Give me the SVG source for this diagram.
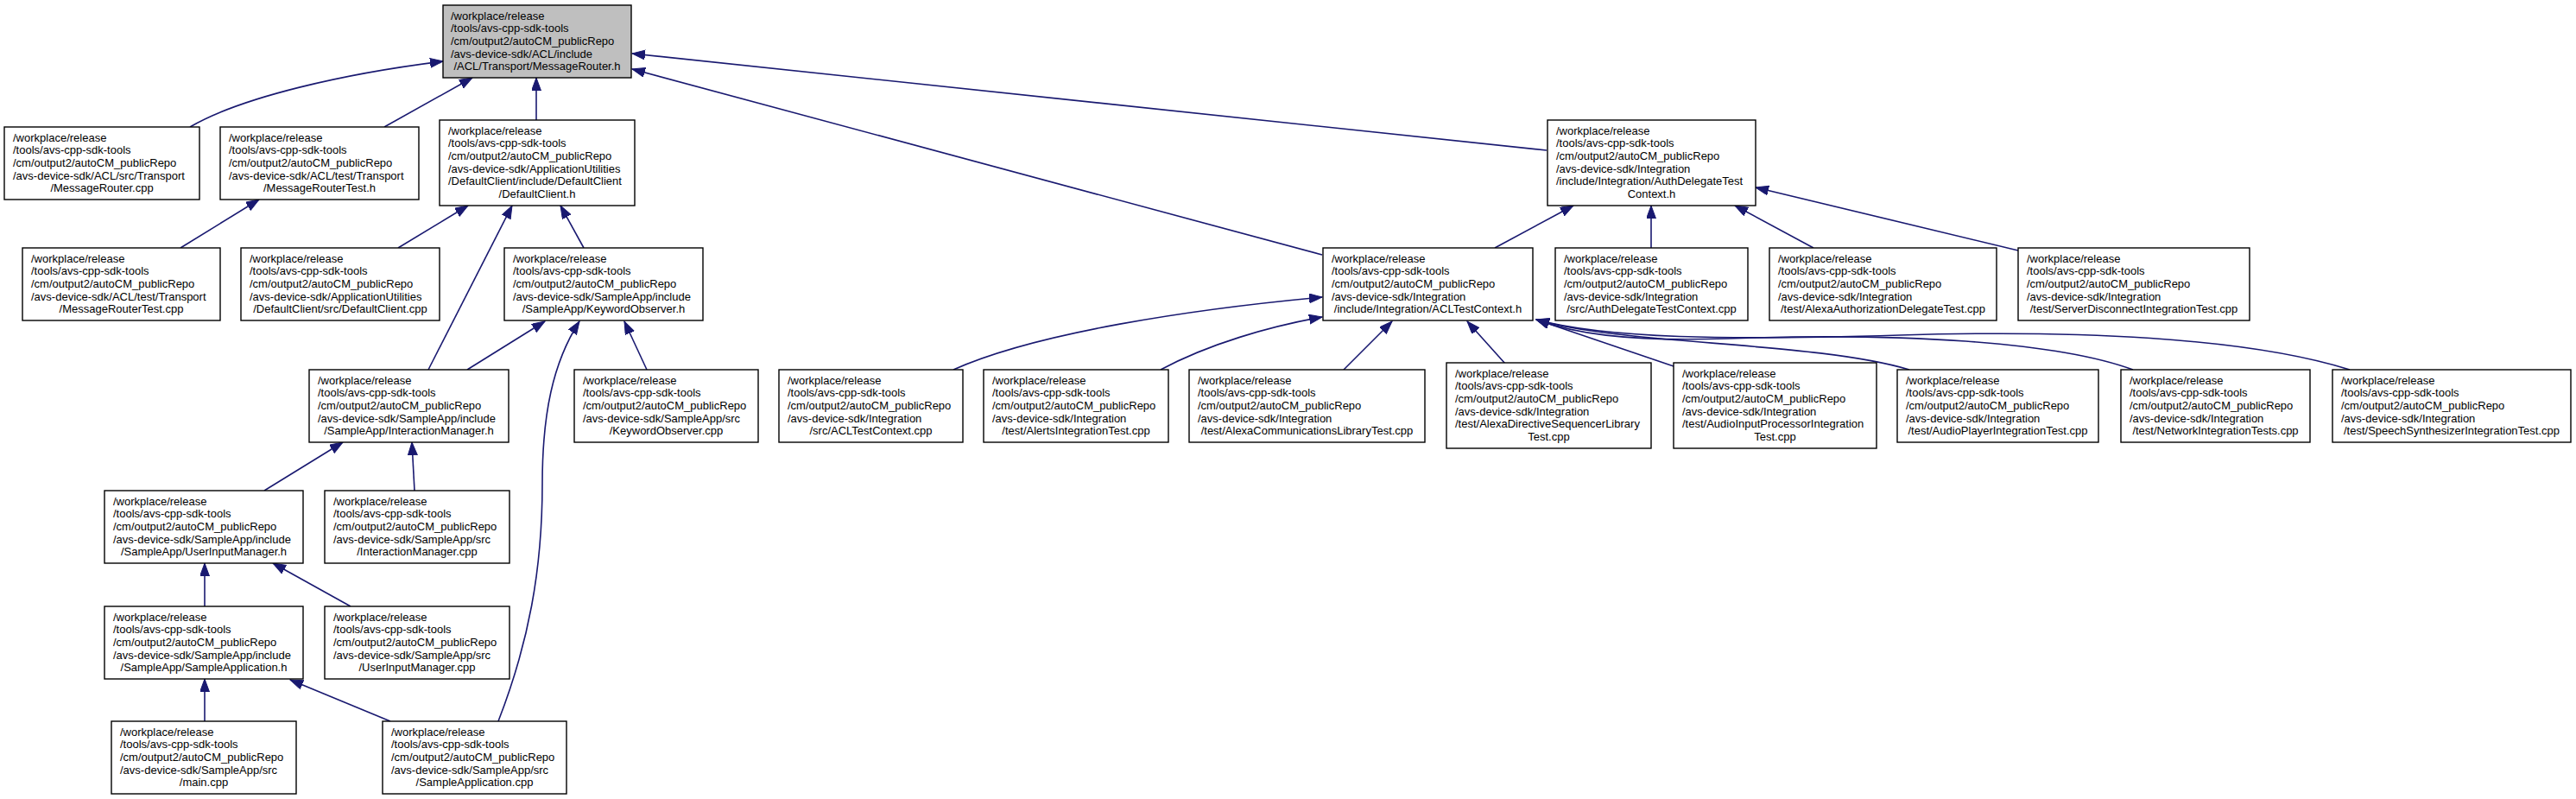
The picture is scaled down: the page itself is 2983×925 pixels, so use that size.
<svg xmlns="http://www.w3.org/2000/svg" width="2983" height="925" viewBox="0 0 2983 925">
<style>
.box{fill:#ffffff;stroke:#000000;stroke-width:1.4}
.root{fill:#bfbfbf;stroke:#000000;stroke-width:1.4}
text{font-family:"Liberation Sans",Arial,sans-serif;font-size:13px;fill:#000000}
.c{text-anchor:middle}
.e{fill:none;stroke:#191970;stroke-width:1.6;marker-end:url(#ah)}
</style>
<defs>
<marker id="ah" markerUnits="userSpaceOnUse" markerWidth="16" markerHeight="12" refX="15" refY="5.5" orient="auto">
<path d="M0,0 L15,5.5 L0,11 z" fill="#191970" stroke="#191970" stroke-width="1"/>
</marker>
</defs>
<rect width="2983" height="925" fill="#ffffff"/>
<g id="edges">
<path class="e" d="M220,147 C280,112 400,85 513,71"/>
<path class="e" d="M445,147 L547,90"/>
<path class="e" d="M621,139 L621,90"/>
<path class="e" d="M1531,295 L732,80"/>
<path class="e" d="M1791,174 L732,62"/>
<path class="e" d="M209,287 L300,231"/>
<path class="e" d="M461,287 L542,238"/>
<path class="e" d="M496,428 L593,238"/>
<path class="e" d="M676,287 L649,238"/>
<path class="e" d="M541,428 L631,372"/>
<path class="e" d="M577,835 C612,745 628,660 628,560 C628,480 640,420 671,372"/>
<path class="e" d="M749,428 L723,372"/>
<path class="e" d="M306,568 L397,512"/>
<path class="e" d="M480,568 L477,512"/>
<path class="e" d="M237,702 L237,652"/>
<path class="e" d="M406,702 L316,652"/>
<path class="e" d="M237,835 L237,786"/>
<path class="e" d="M452,835 L336,787"/>
<path class="e" d="M1731,287 L1822,238"/>
<path class="e" d="M1912,287 L1912,238"/>
<path class="e" d="M2100,287 L2009,238"/>
<path class="e" d="M2337,290 L2033,217"/>
<path class="e" d="M1104,428 C1200,385 1380,358 1531,344"/>
<path class="e" d="M1344,428 C1400,398 1470,378 1531,367"/>
<path class="e" d="M1556,428 L1612,372"/>
<path class="e" d="M1743,421 L1699,372"/>
<path class="e" d="M1938,424 L1779,370"/>
<path class="e" d="M2211,428 C2100,395 1880,400 1779,370"/>
<path class="e" d="M2470,428 C2380,395 2200,385 2000,392 C1880,396 1820,385 1779,370"/>
<path class="e" d="M2721,428 C2600,390 2400,382 2200,388 C2000,394 1860,392 1779,370"/>
</g>
<g id="n_root"><rect class="root" x="513" y="6" width="218" height="84"/>
<text x="522" y="22.5">/workplace/release</text><text x="522" y="37.2">/tools/avs-cpp-sdk-tools</text><text x="522" y="51.9">/cm/output2/autoCM_publicRepo</text><text x="522" y="66.6">/avs-device-sdk/ACL/include</text><text x="622" y="81.3" class="c">/ACL/Transport/MessageRouter.h</text></g>
<g id="n_mr_cpp"><rect class="box" x="5" y="147" width="226" height="84"/>
<text x="15" y="163.5">/workplace/release</text><text x="15" y="178.2">/tools/avs-cpp-sdk-tools</text><text x="15" y="192.9">/cm/output2/autoCM_publicRepo</text><text x="15" y="207.6">/avs-device-sdk/ACL/src/Transport</text><text x="118" y="222.3" class="c">/MessageRouter.cpp</text></g>
<g id="n_mrtest_h"><rect class="box" x="255" y="147" width="230" height="84"/>
<text x="265" y="163.5">/workplace/release</text><text x="265" y="178.2">/tools/avs-cpp-sdk-tools</text><text x="265" y="192.9">/cm/output2/autoCM_publicRepo</text><text x="265" y="207.6">/avs-device-sdk/ACL/test/Transport</text><text x="370" y="222.3" class="c">/MessageRouterTest.h</text></g>
<g id="n_dc_h"><rect class="box" x="509" y="139" width="226" height="99"/>
<text x="519" y="155.5">/workplace/release</text><text x="519" y="170.2">/tools/avs-cpp-sdk-tools</text><text x="519" y="184.9">/cm/output2/autoCM_publicRepo</text><text x="519" y="199.6">/avs-device-sdk/ApplicationUtilities</text><text x="519" y="214.3">/DefaultClient/include/DefaultClient</text><text x="622" y="229" class="c">/DefaultClient.h</text></g>
<g id="n_mrtest_cpp"><rect class="box" x="26" y="287" width="229" height="84"/>
<text x="36" y="303.5">/workplace/release</text><text x="36" y="318.2">/tools/avs-cpp-sdk-tools</text><text x="36" y="332.9">/cm/output2/autoCM_publicRepo</text><text x="36" y="347.6">/avs-device-sdk/ACL/test/Transport</text><text x="140.5" y="362.3" class="c">/MessageRouterTest.cpp</text></g>
<g id="n_dc_cpp"><rect class="box" x="279" y="287" width="230" height="84"/>
<text x="289" y="303.5">/workplace/release</text><text x="289" y="318.2">/tools/avs-cpp-sdk-tools</text><text x="289" y="332.9">/cm/output2/autoCM_publicRepo</text><text x="289" y="347.6">/avs-device-sdk/ApplicationUtilities</text><text x="394" y="362.3" class="c">/DefaultClient/src/DefaultClient.cpp</text></g>
<g id="n_ko_h"><rect class="box" x="584" y="287" width="230" height="84"/>
<text x="594" y="303.5">/workplace/release</text><text x="594" y="318.2">/tools/avs-cpp-sdk-tools</text><text x="594" y="332.9">/cm/output2/autoCM_publicRepo</text><text x="594" y="347.6">/avs-device-sdk/SampleApp/include</text><text x="699" y="362.3" class="c">/SampleApp/KeywordObserver.h</text></g>
<g id="n_im_h"><rect class="box" x="358" y="428" width="231" height="84"/>
<text x="368" y="444.5">/workplace/release</text><text x="368" y="459.2">/tools/avs-cpp-sdk-tools</text><text x="368" y="473.9">/cm/output2/autoCM_publicRepo</text><text x="368" y="488.6">/avs-device-sdk/SampleApp/include</text><text x="473.5" y="503.3" class="c">/SampleApp/InteractionManager.h</text></g>
<g id="n_ko_cpp"><rect class="box" x="665" y="428" width="213" height="84"/>
<text x="675" y="444.5">/workplace/release</text><text x="675" y="459.2">/tools/avs-cpp-sdk-tools</text><text x="675" y="473.9">/cm/output2/autoCM_publicRepo</text><text x="675" y="488.6">/avs-device-sdk/SampleApp/src</text><text x="771.5" y="503.3" class="c">/KeywordObserver.cpp</text></g>
<g id="n_uim_h"><rect class="box" x="121" y="568" width="230" height="84"/>
<text x="131" y="584.5">/workplace/release</text><text x="131" y="599.2">/tools/avs-cpp-sdk-tools</text><text x="131" y="613.9">/cm/output2/autoCM_publicRepo</text><text x="131" y="628.6">/avs-device-sdk/SampleApp/include</text><text x="236" y="643.3" class="c">/SampleApp/UserInputManager.h</text></g>
<g id="n_im_cpp"><rect class="box" x="376" y="568" width="214" height="84"/>
<text x="386" y="584.5">/workplace/release</text><text x="386" y="599.2">/tools/avs-cpp-sdk-tools</text><text x="386" y="613.9">/cm/output2/autoCM_publicRepo</text><text x="386" y="628.6">/avs-device-sdk/SampleApp/src</text><text x="483" y="643.3" class="c">/InteractionManager.cpp</text></g>
<g id="n_sa_h"><rect class="box" x="121" y="702" width="230" height="84"/>
<text x="131" y="718.5">/workplace/release</text><text x="131" y="733.2">/tools/avs-cpp-sdk-tools</text><text x="131" y="747.9">/cm/output2/autoCM_publicRepo</text><text x="131" y="762.6">/avs-device-sdk/SampleApp/include</text><text x="236" y="777.3" class="c">/SampleApp/SampleApplication.h</text></g>
<g id="n_uim_cpp"><rect class="box" x="376" y="702" width="214" height="84"/>
<text x="386" y="718.5">/workplace/release</text><text x="386" y="733.2">/tools/avs-cpp-sdk-tools</text><text x="386" y="747.9">/cm/output2/autoCM_publicRepo</text><text x="386" y="762.6">/avs-device-sdk/SampleApp/src</text><text x="483" y="777.3" class="c">/UserInputManager.cpp</text></g>
<g id="n_main"><rect class="box" x="129" y="835" width="214" height="84"/>
<text x="139" y="851.5">/workplace/release</text><text x="139" y="866.2">/tools/avs-cpp-sdk-tools</text><text x="139" y="880.9">/cm/output2/autoCM_publicRepo</text><text x="139" y="895.6">/avs-device-sdk/SampleApp/src</text><text x="236" y="910.3" class="c">/main.cpp</text></g>
<g id="n_sa_cpp"><rect class="box" x="443" y="835" width="213" height="84"/>
<text x="453" y="851.5">/workplace/release</text><text x="453" y="866.2">/tools/avs-cpp-sdk-tools</text><text x="453" y="880.9">/cm/output2/autoCM_publicRepo</text><text x="453" y="895.6">/avs-device-sdk/SampleApp/src</text><text x="549.5" y="910.3" class="c">/SampleApplication.cpp</text></g>
<g id="n_adtc_h"><rect class="box" x="1792" y="139" width="241" height="99"/>
<text x="1802" y="155.5">/workplace/release</text><text x="1802" y="170.2">/tools/avs-cpp-sdk-tools</text><text x="1802" y="184.9">/cm/output2/autoCM_publicRepo</text><text x="1802" y="199.6">/avs-device-sdk/Integration</text><text x="1802" y="214.3">/include/Integration/AuthDelegateTest</text><text x="1912.5" y="229" class="c">Context.h</text></g>
<g id="n_acltc_h"><rect class="box" x="1532" y="287" width="243" height="84"/>
<text x="1542" y="303.5">/workplace/release</text><text x="1542" y="318.2">/tools/avs-cpp-sdk-tools</text><text x="1542" y="332.9">/cm/output2/autoCM_publicRepo</text><text x="1542" y="347.6">/avs-device-sdk/Integration</text><text x="1653.5" y="362.3" class="c">/include/Integration/ACLTestContext.h</text></g>
<g id="n_adtc_cpp"><rect class="box" x="1801" y="287" width="223" height="84"/>
<text x="1811" y="303.5">/workplace/release</text><text x="1811" y="318.2">/tools/avs-cpp-sdk-tools</text><text x="1811" y="332.9">/cm/output2/autoCM_publicRepo</text><text x="1811" y="347.6">/avs-device-sdk/Integration</text><text x="1912.5" y="362.3" class="c">/src/AuthDelegateTestContext.cpp</text></g>
<g id="n_aad_cpp"><rect class="box" x="2049" y="287" width="263" height="84"/>
<text x="2059" y="303.5">/workplace/release</text><text x="2059" y="318.2">/tools/avs-cpp-sdk-tools</text><text x="2059" y="332.9">/cm/output2/autoCM_publicRepo</text><text x="2059" y="347.6">/avs-device-sdk/Integration</text><text x="2180.5" y="362.3" class="c">/test/AlexaAuthorizationDelegateTest.cpp</text></g>
<g id="n_sdi_cpp"><rect class="box" x="2337" y="287" width="268" height="84"/>
<text x="2347" y="303.5">/workplace/release</text><text x="2347" y="318.2">/tools/avs-cpp-sdk-tools</text><text x="2347" y="332.9">/cm/output2/autoCM_publicRepo</text><text x="2347" y="347.6">/avs-device-sdk/Integration</text><text x="2471" y="362.3" class="c">/test/ServerDisconnectIntegrationTest.cpp</text></g>
<g id="n_acltc_cpp"><rect class="box" x="902" y="428" width="213" height="84"/>
<text x="912" y="444.5">/workplace/release</text><text x="912" y="459.2">/tools/avs-cpp-sdk-tools</text><text x="912" y="473.9">/cm/output2/autoCM_publicRepo</text><text x="912" y="488.6">/avs-device-sdk/Integration</text><text x="1008.5" y="503.3" class="c">/src/ACLTestContext.cpp</text></g>
<g id="n_alerts"><rect class="box" x="1139" y="428" width="214" height="84"/>
<text x="1149" y="444.5">/workplace/release</text><text x="1149" y="459.2">/tools/avs-cpp-sdk-tools</text><text x="1149" y="473.9">/cm/output2/autoCM_publicRepo</text><text x="1149" y="488.6">/avs-device-sdk/Integration</text><text x="1246" y="503.3" class="c">/test/AlertsIntegrationTest.cpp</text></g>
<g id="n_acl_lib"><rect class="box" x="1377" y="428" width="273" height="84"/>
<text x="1387" y="444.5">/workplace/release</text><text x="1387" y="459.2">/tools/avs-cpp-sdk-tools</text><text x="1387" y="473.9">/cm/output2/autoCM_publicRepo</text><text x="1387" y="488.6">/avs-device-sdk/Integration</text><text x="1513.5" y="503.3" class="c">/test/AlexaCommunicationsLibraryTest.cpp</text></g>
<g id="n_ads"><rect class="box" x="1675" y="420" width="237" height="99"/>
<text x="1685" y="436.5">/workplace/release</text><text x="1685" y="451.2">/tools/avs-cpp-sdk-tools</text><text x="1685" y="465.9">/cm/output2/autoCM_publicRepo</text><text x="1685" y="480.6">/avs-device-sdk/Integration</text><text x="1685" y="495.3">/test/AlexaDirectiveSequencerLibrary</text><text x="1793.5" y="510" class="c">Test.cpp</text></g>
<g id="n_aip"><rect class="box" x="1938" y="420" width="235" height="99"/>
<text x="1948" y="436.5">/workplace/release</text><text x="1948" y="451.2">/tools/avs-cpp-sdk-tools</text><text x="1948" y="465.9">/cm/output2/autoCM_publicRepo</text><text x="1948" y="480.6">/avs-device-sdk/Integration</text><text x="1948" y="495.3">/test/AudioInputProcessorIntegration</text><text x="2055.5" y="510" class="c">Test.cpp</text></g>
<g id="n_ap"><rect class="box" x="2197" y="428" width="233" height="84"/>
<text x="2207" y="444.5">/workplace/release</text><text x="2207" y="459.2">/tools/avs-cpp-sdk-tools</text><text x="2207" y="473.9">/cm/output2/autoCM_publicRepo</text><text x="2207" y="488.6">/avs-device-sdk/Integration</text><text x="2313.5" y="503.3" class="c">/test/AudioPlayerIntegrationTest.cpp</text></g>
<g id="n_net"><rect class="box" x="2456" y="428" width="219" height="84"/>
<text x="2466" y="444.5">/workplace/release</text><text x="2466" y="459.2">/tools/avs-cpp-sdk-tools</text><text x="2466" y="473.9">/cm/output2/autoCM_publicRepo</text><text x="2466" y="488.6">/avs-device-sdk/Integration</text><text x="2565.5" y="503.3" class="c">/test/NetworkIntegrationTests.cpp</text></g>
<g id="n_ss"><rect class="box" x="2701" y="428" width="276" height="84"/>
<text x="2711" y="444.5">/workplace/release</text><text x="2711" y="459.2">/tools/avs-cpp-sdk-tools</text><text x="2711" y="473.9">/cm/output2/autoCM_publicRepo</text><text x="2711" y="488.6">/avs-device-sdk/Integration</text><text x="2839" y="503.3" class="c">/test/SpeechSynthesizerIntegrationTest.cpp</text></g>
</svg>
